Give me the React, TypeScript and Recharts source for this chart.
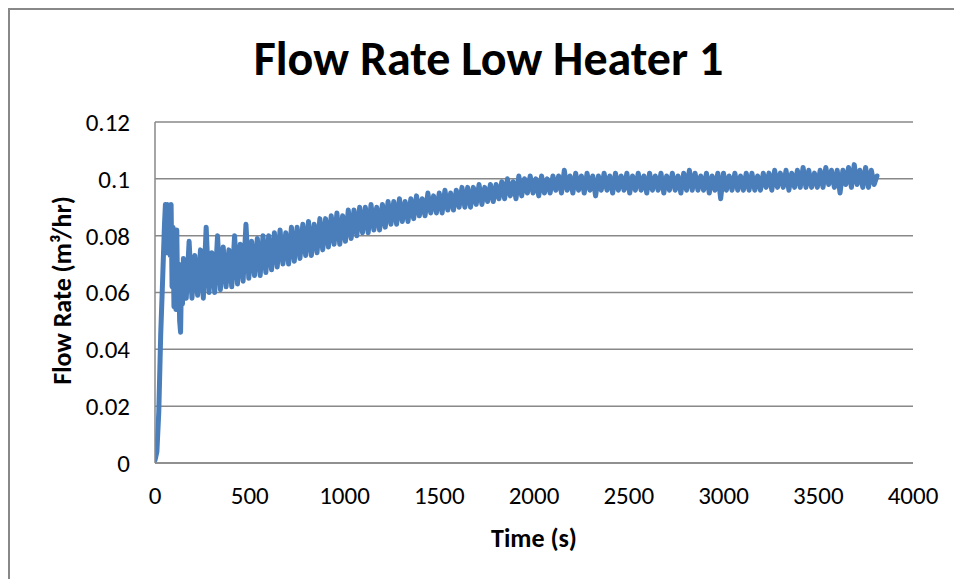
import React from 'react';
import { LineChart, Line, XAxis, YAxis, CartesianGrid } from 'recharts';

const chartTitle = 'Flow Rate Low Heater 1';
const xAxisTitle = 'Time (s)';
const yAxisTitle = 'Flow Rate (m³/hr)';

const xTicks = [0, 500, 1000, 1500, 2000, 2500, 3000, 3500, 4000];
const yTicks = [0, 0.02, 0.04, 0.06, 0.08, 0.1, 0.12];

const timeSec = [
  0, 10, 20, 30, 40, 50, 55, 60, 65, 70, 75, 80, 85, 90, 95, 100, 105, 110, 115, 120, 125, 130, 135, 140, 145,
  150, 165, 180, 195, 210, 225, 240, 255, 270, 285,
  300, 315, 330, 345, 360, 375, 390, 405, 420, 435,
  450, 465, 480, 495, 510, 525, 540, 555, 570, 585,
  600, 615, 630, 645, 660, 675, 690, 705, 720, 735,
  750, 765, 780, 795, 810, 825, 840, 855, 870, 885,
  900, 915, 930, 945, 960, 975, 990, 1005, 1020, 1035,
  1050, 1065, 1080, 1095, 1110, 1125, 1140, 1155, 1170, 1185,
  1200, 1215, 1230, 1245, 1260, 1275, 1290, 1305, 1320, 1335,
  1350, 1365, 1380, 1395, 1410, 1425, 1440, 1455, 1470, 1485,
  1500, 1515, 1530, 1545, 1560, 1575, 1590, 1605, 1620, 1635,
  1650, 1665, 1680, 1695, 1710, 1725, 1740, 1755, 1770, 1785,
  1800, 1815, 1830, 1845, 1860, 1875, 1890, 1905, 1920, 1935,
  1950, 1965, 1980, 1995, 2010, 2025, 2040, 2055, 2070, 2085,
  2100, 2115, 2130, 2145, 2160, 2175, 2190, 2205, 2220, 2235,
  2250, 2265, 2280, 2295, 2310, 2325, 2340, 2355, 2370, 2385,
  2400, 2415, 2430, 2445, 2460, 2475, 2490, 2505, 2520, 2535,
  2550, 2565, 2580, 2595, 2610, 2625, 2640, 2655, 2670, 2685,
  2700, 2715, 2730, 2745, 2760, 2775, 2790, 2805, 2820, 2835,
  2850, 2865, 2880, 2895, 2910, 2925, 2940, 2955, 2970, 2985,
  3000, 3015, 3030, 3045, 3060, 3075, 3090, 3105, 3120, 3135,
  3150, 3165, 3180, 3195, 3210, 3225, 3240, 3255, 3270, 3285,
  3300, 3315, 3330, 3345, 3360, 3375, 3390, 3405, 3420, 3435,
  3450, 3465, 3480, 3495, 3510, 3525, 3540, 3555, 3570, 3585,
  3600, 3615, 3630, 3645, 3660, 3675, 3690, 3705, 3720, 3735,
  3750, 3765, 3780, 3795, 3810,
];

const flowRate = [
  0.001, 0.004, 0.018, 0.045, 0.064, 0.084, 0.091, 0.074, 0.091, 0.076, 0.09, 0.073, 0.091, 0.062, 0.083, 0.055, 0.08, 0.054, 0.082, 0.056, 0.07, 0.05, 0.046, 0.066, 0.056,
  0.072, 0.058, 0.078, 0.058, 0.073, 0.059, 0.075, 0.058, 0.083, 0.06,
  0.074, 0.06, 0.08, 0.061, 0.076, 0.062, 0.075, 0.062, 0.08, 0.063,
  0.077, 0.064, 0.084, 0.065, 0.078, 0.066, 0.079, 0.066, 0.08, 0.067,
  0.08, 0.068, 0.081, 0.069, 0.082, 0.07, 0.081, 0.07, 0.083, 0.071,
  0.083, 0.072, 0.084, 0.073, 0.085, 0.073, 0.084, 0.074, 0.086, 0.075,
  0.086, 0.076, 0.087, 0.077, 0.088, 0.077, 0.087, 0.078, 0.089, 0.079,
  0.089, 0.08, 0.09, 0.081, 0.09, 0.081, 0.091, 0.082, 0.09, 0.082,
  0.091, 0.083, 0.092, 0.084, 0.092, 0.084, 0.093, 0.085, 0.092, 0.085,
  0.093, 0.086, 0.094, 0.087, 0.093, 0.087, 0.095, 0.088, 0.094, 0.088,
  0.095, 0.088, 0.096, 0.089, 0.095, 0.089, 0.096, 0.09, 0.097, 0.09,
  0.097, 0.09, 0.097, 0.091, 0.098, 0.091, 0.097, 0.092, 0.098, 0.092,
  0.098, 0.093, 0.099, 0.093, 0.1, 0.094, 0.099, 0.093, 0.101, 0.094,
  0.1, 0.095, 0.101, 0.095, 0.1, 0.094, 0.101, 0.095, 0.1, 0.095,
  0.101, 0.096, 0.101, 0.095, 0.103, 0.096, 0.101, 0.095, 0.102, 0.096,
  0.101, 0.095, 0.102, 0.096, 0.101, 0.094, 0.101, 0.096, 0.102, 0.096,
  0.101, 0.095, 0.102, 0.096, 0.101, 0.096, 0.102, 0.095, 0.101, 0.096,
  0.102, 0.096, 0.101, 0.095, 0.102, 0.096, 0.101, 0.096, 0.102, 0.095,
  0.101, 0.096, 0.102, 0.096, 0.101, 0.095, 0.102, 0.096, 0.103, 0.096,
  0.102, 0.096, 0.101, 0.096, 0.102, 0.095, 0.101, 0.096, 0.102, 0.093,
  0.102, 0.096, 0.101, 0.096, 0.102, 0.096, 0.101, 0.096, 0.102, 0.096,
  0.102, 0.096, 0.101, 0.096, 0.102, 0.097, 0.102, 0.096, 0.103, 0.097,
  0.102, 0.097, 0.103, 0.096, 0.102, 0.097, 0.103, 0.097, 0.104, 0.097,
  0.103, 0.097, 0.102, 0.097, 0.103, 0.097, 0.104, 0.098, 0.103, 0.097,
  0.103, 0.095, 0.103, 0.098, 0.104, 0.097, 0.105, 0.098, 0.103, 0.097,
  0.104, 0.097, 0.103, 0.098, 0.101,
];

const data = timeSec.map((t, i) => ({ t, v: flowRate[i] }));

const FONT = 'Carlito, Lato, "Open Sans", sans-serif';
const GRID = '#888888';
const LINE = '#4a7ebb';

const YTitle = (props: any) => {
  const vb = props.viewBox || {};
  const cx = vb.x - 33;
  const cy = vb.y + vb.height / 2 - 2;
  return (
    <text
      x={cx}
      y={cy}
      dy="0.33em"
      textAnchor="middle"
      transform={`rotate(-90, ${cx}, ${cy})`}
      fontFamily={FONT}
      fontWeight="bold"
      fontSize={26}
      fill="#000"
    >
      {yAxisTitle}
    </text>
  );
};

const XTitle = (props: any) => {
  const vb = props.viewBox || {};
  return (
    <text
      x={vb.x + vb.width / 2}
      y={vb.y + 84}
      textAnchor="middle"
      fontFamily={FONT}
      fontWeight="bold"
      fontSize={26}
      fill="#000"
    >
      {xAxisTitle}
    </text>
  );
};

export default function App() {
  return (
    <div style={{ position: 'absolute', left: 0, top: 0, width: 954, height: 579, overflow: 'hidden', background: '#fff' }}>
      <div
        style={{
          position: 'absolute',
          left: 8,
          top: 8,
          width: 1000,
          height: 700,
          borderTop: `2px solid ${GRID}`,
          borderLeft: `2px solid ${GRID}`,
        }}
      />
      <div style={{ position: 'absolute', left: 0, top: 0 }}>
        <LineChart
          width={954}
          height={579}
          data={data}
          margin={{ top: 122, right: 41, bottom: 86, left: 95 }}
        >
          <CartesianGrid vertical={false} stroke={GRID} strokeWidth={1.5} />
          <XAxis
            type="number"
            dataKey="t"
            domain={[0, 4000]}
            ticks={xTicks}
            height={30}
            tickLine={false}
            tickSize={0}
            tickMargin={23}
            axisLine={{ stroke: GRID, strokeWidth: 1.5 }}
            tick={{ fill: '#000', fontSize: 25, fontFamily: FONT }}
            interval={0}
            allowDataOverflow
            label={{ content: XTitle }}
          />
          <YAxis
            type="number"
            domain={[0, 0.12]}
            ticks={yTicks}
            width={60}
            tickLine={false}
            tickSize={0}
            tickMargin={25}
            axisLine={{ stroke: GRID, strokeWidth: 1.5 }}
            tick={{ fill: '#000', fontSize: 25, fontFamily: FONT }}
            interval={0}
            allowDataOverflow
            label={{ content: YTitle }}
          />
          <Line
            type="linear"
            dataKey="v"
            stroke={LINE}
            strokeWidth={5}
            strokeLinejoin="round"
            strokeLinecap="round"
            dot={false}
            activeDot={false}
            isAnimationActive={false}
          />
        </LineChart>
      </div>
      <svg width={954} height={579} style={{ position: 'absolute', left: 0, top: 0, pointerEvents: 'none' }}>
        <text x={488.5} y={75} textAnchor="middle" fontFamily={FONT} fontWeight="bold" fontSize={48} fill="#000">
          {chartTitle}
        </text>
      </svg>
    </div>
  );
}
